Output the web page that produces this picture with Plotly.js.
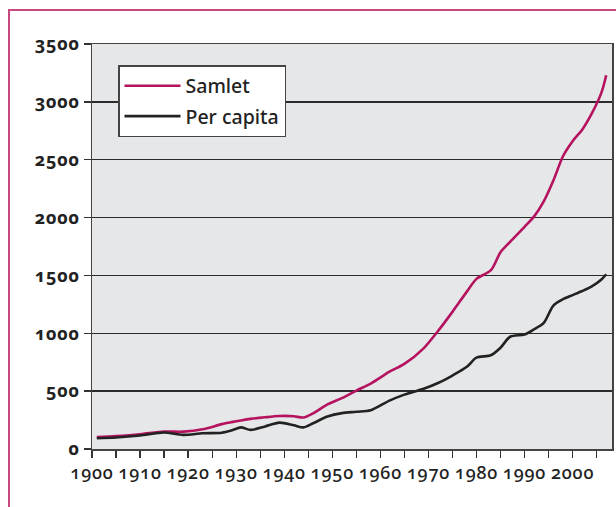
<!DOCTYPE html>
<html>
<head>
<meta charset="utf-8">
<script src="https://cdn.plot.ly/plotly-3.0.1.min.js"></script>
<style>
  html, body { margin: 0; padding: 0; background: #fff; }
  #frame { position: absolute; left: 8px; top: 9px; width: 700px; height: 600px;
           border-left: 2px solid #c64a80; border-top: 2px solid #c64a80; }
  #chart { position: absolute; left: 0; top: 0; width: 616px; height: 507px; }
  #chart text { font-feature-settings: "onum" 1; }
  #chart .xtick text, #chart .ytick text { letter-spacing: 0.8px; }
</style>
</head>
<body>
<div id="frame"></div>
<div id="chart"></div>
<script>
// years (uneven spacing, follows the curve's bends)
const YEARS = [1901, 1905, 1910, 1915, 1919, 1923, 1927, 1929, 1931, 1933, 1936, 1939,
  1942, 1944, 1946, 1949, 1952, 1955, 1958, 1962, 1965, 1969, 1972, 1975, 1978, 1980,
  1983, 1985, 1987, 1990, 1992, 1994, 1996, 1998, 2000, 2002, 2004, 2006, 2007];

const SAMLET = [103, 112, 128, 150, 150, 170, 215, 232, 247, 260, 274, 285,
  283, 272, 308, 385, 440, 505, 565, 670, 735, 870, 1020, 1185, 1360, 1470,
  1545, 1700, 1790, 1920, 2010, 2140, 2320, 2530, 2660, 2760, 2900, 3080, 3230];

const PER_CAPITA = [93, 100, 117, 143, 122, 136, 141, 160, 187, 165, 195, 228,
  205, 187, 222, 280, 310, 322, 335, 420, 470, 520, 570, 635, 710, 790,
  810, 875, 970, 990, 1035, 1090, 1240, 1295, 1330, 1365, 1405, 1465, 1510];

const Y_TICKS = [0, 500, 1000, 1500, 2000, 2500, 3000, 3500];
const X_TICKS = [1900, 1910, 1920, 1930, 1940, 1950, 1960, 1970, 1980, 1990, 2000];

const traces = [
  {
    x: YEARS, y: SAMLET, name: 'Samlet', legendgroup: 'a',
    type: 'scatter', mode: 'lines',
    line: { color: '#b5135f', width: 2.6, shape: 'spline', smoothing: 0.8 },
  },
  {
    x: YEARS, y: PER_CAPITA, name: 'Per capita', legendgroup: 'b',
    type: 'scatter', mode: 'lines',
    line: { color: '#222222', width: 2.6, shape: 'spline', smoothing: 0.8 },
  },
];

const layout = {
  width: 616, height: 507,
  margin: { l: 92, r: 4, t: 44, b: 58 },
  paper_bgcolor: 'rgba(0,0,0,0)',
  plot_bgcolor: '#e6e7e9',
  font: { family: '"Noto Sans", "Open Sans", sans-serif', color: '#222' },
  xaxis: {
    range: [1900, 2008.2],
    tickmode: 'array', tickvals: X_TICKS,
    ticks: 'outside', ticklen: 7, tickwidth: 1.3, tickcolor: '#333',
    minor: { dtick: 5, tick0: 1900, ticks: 'outside', ticklen: 7, tickwidth: 1.3, tickcolor: '#333' },
    showgrid: false, zeroline: false,
    showline: true, linecolor: '#444', linewidth: 1.5, mirror: true,
    tickfont: { size: 18, color: '#222', weight: 500 },
  },
  yaxis: {
    range: [0, 3500],
    tickmode: 'array', tickvals: Y_TICKS,
    ticks: 'outside', ticklen: 7, tickwidth: 1.3, tickcolor: '#333',
    showgrid: true, gridcolor: '#2b2b2b', gridwidth: 1.4,
    zeroline: false,
    showline: true, linecolor: '#444', linewidth: 1.5, mirror: true,
    tickfont: { size: 18, color: '#222', weight: 'bold' },
  },
  showlegend: true,
  legend: {
    x: 0.05, y: 0.948, xanchor: 'left', yanchor: 'top',
    bgcolor: '#ffffff', bordercolor: '#444', borderwidth: 1.5,
    font: { size: 19.5, color: '#222', weight: 500 },
    traceorder: 'grouped', tracegroupgap: 2, itemwidth: 56,
  },
};

Plotly.newPlot('chart', traces, layout, { displayModeBar: false, staticPlot: true });
</script>
</body>
</html>
